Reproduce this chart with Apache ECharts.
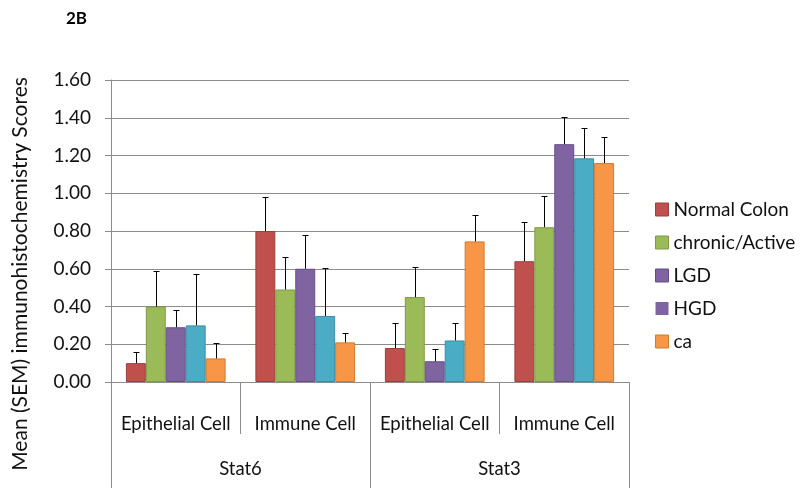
<!DOCTYPE html>
<html>
<head>
<meta charset="utf-8">
<script src="https://cdn.jsdelivr.net/npm/echarts@6/dist/echarts.min.js"></script>
<style>
html,body{margin:0;padding:0;background:#fff;}
#c{width:800px;height:488px;}
</style>
</head>
<body>
<div id="c"></div>
<script>
// ---- data ----
var cellLabels = ['Epithelial Cell', 'Immune Cell', 'Epithelial Cell', 'Immune Cell'];
var groupLabels = ['Stat6', 'Stat3'];
var seriesNames = ['Normal Colon', 'chronic/Active', 'LGD', 'HGD', 'ca'];
var normalColon = [0.10, 0.80, 0.18, 0.64];
var normalColonSem = [0.06, 0.18, 0.13, 0.21];
var chronicActive = [0.40, 0.49, 0.45, 0.82];
var chronicActiveSem = [0.19, 0.17, 0.16, 0.165];
var lgd = [0.29, 0.60, 0.11, 1.26];
var lgdSem = [0.09, 0.18, 0.065, 0.145];
var hgd = [0.30, 0.35, 0.22, 1.185];
var hgdSem = [0.27, 0.255, 0.095, 0.16];
var ca = [0.125, 0.21, 0.745, 1.16];
var caSem = [0.08, 0.05, 0.14, 0.14];
var yTicks = [0, 0.2, 0.4, 0.6, 0.8, 1.0, 1.2, 1.4, 1.6];

var values = [normalColon, chronicActive, lgd, hgd, ca];
var sems = [normalColonSem, chronicActiveSem, lgdSem, hgdSem, caSem];
var colors = ['#C0504D', '#9BBB59', '#8064A2', '#4BACC6', '#F79646'];
var borders = ['#9A3F3C', '#7D9A44', '#654E85', '#3A8CA3', '#D07A32'];
var legendColors = ['#C0504D', '#9BBB59', '#8064A2', '#8064A2', '#F79646'];
var legendBorders = ['#9A3F3C', '#7D9A44', '#654E85', 'transparent', '#D07A32'];

var FONT = 'Lato';
var GAP = 0.23;
var grey = '#8C8C8C';

var series = [];
seriesNames.forEach(function (n, k) {
  series.push({
    name: n, type: 'bar', data: values[k],
    barGap: '0%', barCategoryGap: (GAP * 100) + '%',
    itemStyle: { color: colors[k], borderColor: borders[k], borderWidth: 1 },
    emphasis: { disabled: true }
  });
});
seriesNames.forEach(function (n, k) {
  series.push({
    name: n + ' SEM', type: 'custom', z: 5,
    data: values[k].map(function (v, i) { return [i, v, sems[k][i]]; }),
    encode: { x: 0, y: 1 },
    renderItem: function (params, api) {
      var ci = api.value(0), v = api.value(1), s = api.value(2);
      var bw = api.size([1, 0])[0] * (1 - GAP) / seriesNames.length;
      var p0 = api.coord([ci, v]);
      var p1 = api.coord([ci, v + s]);
      var x = Math.round(p0[0] + (k - (seriesNames.length - 1) / 2) * bw) + 0.5;
      var yTop = Math.round(p1[1]) + 0.5;
      var st = { stroke: '#000', lineWidth: 1 };
      return { type: 'group', children: [
        { type: 'line', shape: { x1: x, y1: p0[1], x2: x, y2: yTop }, style: st },
        { type: 'line', shape: { x1: x - 3, y1: yTop, x2: x + 3, y2: yTop }, style: st }
      ] };
    }
  });
});

var chart = echarts.init(document.getElementById('c'), null, { renderer: 'canvas' });
chart.setOption({
  animation: false,
  backgroundColor: '#fff',
  textStyle: { fontFamily: FONT },
  grid: { left: 111, right: 171, top: 80, bottom: 106, containLabel: false },
  legend: {
    orient: 'vertical', left: 650, top: 195,
    icon: 'rect', itemWidth: 13, itemHeight: 13, itemGap: 14, itemTextGap: 5,
    textStyle: { fontFamily: FONT, fontSize: 19, color: '#111' },
    selectedMode: false,
    data: seriesNames.map(function (n, k) {
      return { name: n, itemStyle: { color: legendColors[k], borderColor: legendBorders[k], borderWidth: 1 } };
    })
  },
  xAxis: [
    {
      type: 'category', data: cellLabels, position: 'bottom',
      axisLine: { show: true, lineStyle: { color: grey, width: 1 } },
      axisTick: { show: true, interval: 0, length: 52, lineStyle: { color: grey } },
      axisLabel: { interval: 0, margin: 33, fontFamily: FONT, fontSize: 18.5, color: '#111' },
      splitLine: { show: false }
    },
    {
      type: 'category', data: groupLabels, position: 'bottom',
      axisLine: { show: false },
      axisTick: { show: true, interval: 0, length: 106, lineStyle: { color: grey } },
      axisLabel: { interval: 0, margin: 78, fontFamily: FONT, fontSize: 18.5, color: '#111' },
      splitLine: { show: false }
    }
  ],
  yAxis: {
    type: 'value', min: yTicks[0], max: yTicks[yTicks.length - 1], interval: yTicks[1] - yTicks[0],
    axisLine: { show: true, lineStyle: { color: grey } },
    axisTick: { show: true, length: 6, lineStyle: { color: grey } },
    axisLabel: { margin: 20, fontFamily: FONT, fontSize: 19, color: '#111',
      formatter: function (v) { return v.toFixed(2); } },
    splitLine: { show: true, lineStyle: { color: grey, width: 1 } }
  },
  graphic: [
    { type: 'text', left: 66, top: 10, style: { text: '2B', fontFamily: FONT, fontWeight: 'bold', fontSize: 17, fill: '#000' } },
    { type: 'text', x: 20, y: 274, rotation: Math.PI / 2,
      style: { text: 'Mean (SEM) immunohistochemistry Scores', fontFamily: FONT, fontSize: 21, fill: '#111',
        textAlign: 'center', textVerticalAlign: 'middle' } }
  ],
  series: series
});
</script>
</body>
</html>
